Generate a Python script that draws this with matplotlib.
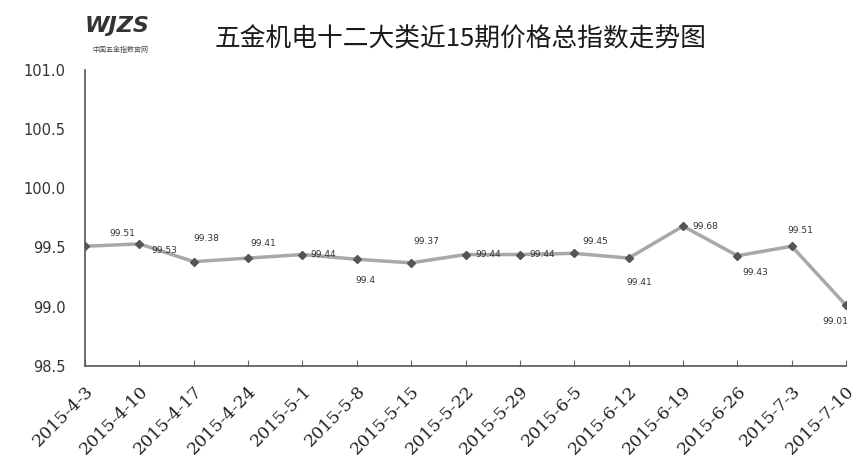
import matplotlib.pyplot as plt

plt.rcParams['font.family'] = ['Noto Sans CJK SC', 'DejaVu Sans']

dates = ['2015-4-3', '2015-4-10', '2015-4-17', '2015-4-24', '2015-5-1',
         '2015-5-8', '2015-5-15', '2015-5-22', '2015-5-29', '2015-6-5',
         '2015-6-12', '2015-6-19', '2015-6-26', '2015-7-3', '2015-7-10']
index = [99.51, 99.53, 99.38, 99.41, 99.44, 99.4, 99.37, 99.44, 99.44,
         99.45, 99.41, 99.68, 99.43, 99.51, 99.01]
yticks = [98.5, 99.0, 99.5, 100.0, 100.5, 101.0]

# label offsets in pixels (dx, dy)
offs = [(37, 13), (25, -7), (13, 23), (15, 15), (21, 0), (9, -21), (15, 21),
        (23, 0), (22, 0), (21, 12), (11, -24), (22, 0), (18, -17), (9, 16),
        (-11, -16)]

fig = plt.figure(figsize=(8.59, 4.69), dpi=100)
ax = fig.add_axes([0.099, 0.22, 0.886, 0.631])

x = list(range(len(dates)))
ax.plot(x, index, color='#a8a8a8', lw=2.5, zorder=2)
ax.plot(x, index, ls='none', marker='D', ms=4.5, color='#555555', zorder=3)

for xi, v, (dx, dy) in zip(x, index, offs):
    ax.annotate(f'{v:g}', (xi, v), xytext=(dx, dy), textcoords='offset pixels',
                ha='center', va='center', fontsize=6.5, color='#333333',
                family='DejaVu Sans')

ax.set_xlim(0, 14)
ax.set_ylim(98.5, 101.0)
ax.set_yticks(yticks)
ax.set_yticklabels([f'{t:.1f}' for t in yticks], family='DejaVu Sans',
                   fontsize=10.5, color='#333333')
ax.set_xticks(x)
ax.set_xticklabels(dates, rotation=45, ha='right', rotation_mode='anchor',
                   family='DejaVu Serif', fontsize=12.5, color='#222222')
ax.tick_params(axis='x', direction='in', length=4, color='#666666', pad=12)
ax.tick_params(axis='y', length=0, pad=14)

for s in ['top', 'right']:
    ax.spines[s].set_visible(False)
for s in ['left', 'bottom']:
    ax.spines[s].set_color('#555555')
    ax.spines[s].set_linewidth(1.2)

fig.text(0.536, 0.915, '五金机电十二大类近15期价格总指数走势图', ha='center',
         va='center', fontsize=18.5, fontweight='medium', color='#1a1a1a')
fig.text(0.098, 0.945, 'WJZS', ha='left', va='center', fontsize=16,
         fontweight='bold', style='italic', color='#333333',
         family='DejaVu Sans')
fig.text(0.107, 0.893, '中国五金指数官网', ha='left', va='center',
         fontsize=5, color='#444444')

fig.savefig('out.png', dpi=100)
